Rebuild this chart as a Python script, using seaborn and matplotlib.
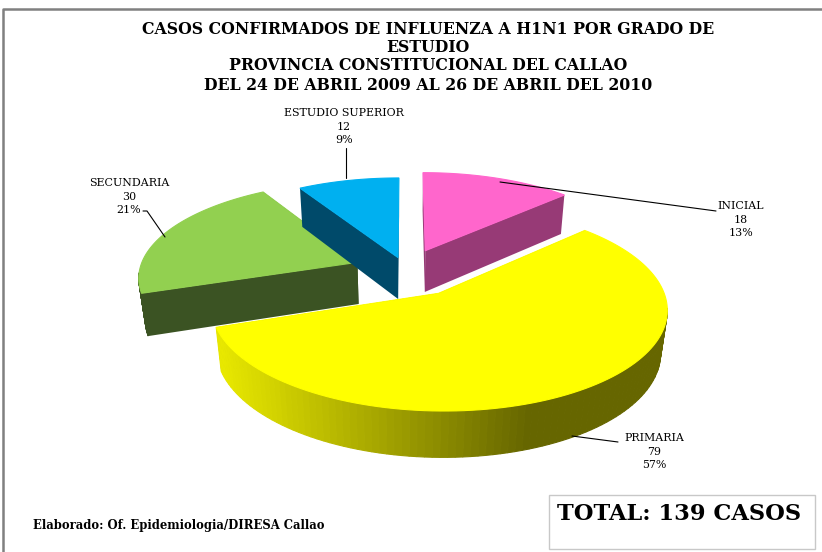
import numpy as np
import seaborn as sns
import matplotlib.pyplot as plt
from matplotlib.colors import LinearSegmentedColormap

# Casos H1N1 por grado de estudio
categorias = ['INICIAL', 'PRIMARIA', 'SECUNDARIA', 'ESTUDIO SUPERIOR']
casos = [18, 79, 30, 12]
porcentajes = ['13%', '57%', '21%', '9%']
titulo = ['CASOS CONFIRMADOS DE INFLUENZA A H1N1 POR GRADO DE', 'ESTUDIO',
          'PROVINCIA CONSTITUCIONAL DEL CALLAO',
          'DEL 24 DE ABRIL 2009 AL 26 DE ABRIL DEL 2010']

colores_top = ['#ff66cc', '#ffff00', '#92d050', '#00b0f0']
colores_lado = ['#973a76', '#666600', '#3b5323', '#004a6a']
explode = [0.23, 0.28, 0.24, 0.14]

sns.set_theme(style='white')
plt.rcParams['font.family'] = ['DejaVu Serif']

# perspective of the disc, in pixels of the figure
CX, CY, A, B, DEPTH, K, M = 406, 270, 218, 94, 43, 0.14, 0.025


def proyectar(x, y, d):
    s = 1 / (1 + K * y + M * d)
    return CX + A * x * s, CY - B * y * s + DEPTH * d * s


fig = plt.figure(figsize=(8.22, 5.52), dpi=100)
ax = fig.add_axes([0, 0, 1, 1])
ax.set_xlim(0, 822)
ax.set_ylim(552, 0)
ax.axis('off')

# marco gris
ax.plot([3, 3, 822], [552, 9, 9], color='#808080', lw=1.8)

gradiente = LinearSegmentedColormap.from_list('rim', ['#e8e800', '#666600'])
bordes = np.concatenate([[0], np.cumsum(casos)]) / sum(casos) * 2 * np.pi

for i in range(len(casos)):
    t = np.linspace(bordes[i], bordes[i + 1], 120)
    mid = (bordes[i] + bordes[i + 1]) / 2
    ox, oy = explode[i] * np.sin(mid), explode[i] * np.cos(mid)
    xs, ys = ox + np.sin(t), oy + np.cos(t)

    # caras de corte
    for j in [0, -1]:
        qx, qy = [ox, xs[j], xs[j], ox], [oy, ys[j], ys[j], oy]
        px, py = proyectar(np.array(qx), np.array(qy), np.array([0, 0, 1, 1]))
        ax.fill(px, py, color=colores_lado[i], lw=0)

    # borde exterior, solo la parte delantera
    for j in range(len(t) - 1):
        if np.cos(t[j]) > -0.12:
            continue
        qx = np.array([xs[j], xs[j + 1], xs[j + 1], xs[j]])
        qy = np.array([ys[j], ys[j + 1], ys[j + 1], ys[j]])
        px, py = proyectar(qx, qy, np.array([0, 0, 1, 1]))
        if i == 1:
            c = gradiente(np.clip((px.mean() - 222) / (527 - 222), 0, 1))
        else:
            c = colores_lado[i]
        ax.fill(px, py, color=c, lw=0.8)

    # cara superior
    px, py = proyectar(np.r_[ox, xs], np.r_[oy, ys], 0)
    ax.fill(px, py, color=colores_top[i], lw=0.8)

# etiquetas
pos_etiqueta = [(741, 206), (654, 438), (129, 183), (344, 113)]
lineas = [[(500, 182), (716, 211)], [(572, 436), (618, 442)],
          [(143, 211), (147, 211), (165, 237)], [(346, 148), (346, 178)]]
for i, cat in enumerate(categorias):
    lx, ly = pos_etiqueta[i]
    for k, txt in enumerate([cat, str(casos[i]), porcentajes[i]]):
        ax.text(lx, ly + k * 13.7, txt, ha='center', va='center', fontsize=7.9, color='black')
    ax.plot(*zip(*lineas[i]), color='black', lw=0.8)

for y, linea in zip([29, 47, 65, 85], titulo):
    ax.text(428, y, linea, ha='center', va='center', fontsize=11.3, fontweight='bold', color='black')

ax.text(33, 526, 'Elaborado: Of. Epidemiologia/DIRESA Callao', ha='left', va='center',
        fontsize=8.4, fontweight='bold', color='black')

ax.fill([549, 815, 815, 549], [495, 495, 549, 549], facecolor='white', edgecolor='#c8c8c8', lw=1)
ax.text(557, 514, 'TOTAL: 139 CASOS', ha='left', va='center', fontsize=16.2,
        fontweight='bold', color='black')

fig.savefig('out.png', dpi=100)
